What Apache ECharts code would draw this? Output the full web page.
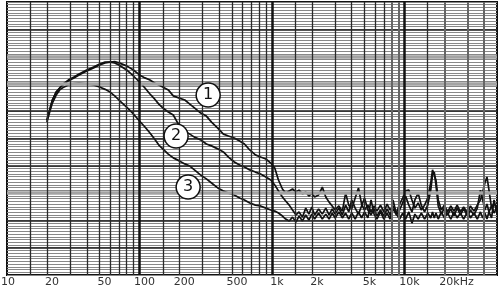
<!DOCTYPE html>
<html>
<head>
<meta charset="utf-8">
<script src="https://cdn.jsdelivr.net/npm/echarts@6/dist/echarts.min.js"></script>
<style>
  html, body { margin: 0; padding: 0; background: #fff; }
  #chart { width: 499px; height: 291px; }
</style>
</head>
<body>
<div id="chart"></div>
<script>
// frequencies shared by the three responses (Hz)
const freqs = [
  20, 21, 22, 23.5, 25, 27, 29, 32, 35, 40,
  45, 50, 55, 60, 65, 70, 80, 90, 100, 110,
  120, 130, 140, 150, 165, 180, 200, 220, 240, 260,
  290, 320, 350, 390, 430, 470, 520, 570, 620, 680,
  750, 820, 900, 980, 1050, 1120, 1200, 1270, 1350, 1430,
  1520, 1600, 1700, 1800, 1900, 2000, 2100, 2250, 2400, 2550,
  2700, 2850, 3000, 3200, 3400, 3600, 3800, 4000, 4250, 4500,
  4750, 5000, 5300, 5600, 5900, 6200, 6600, 7000, 7400, 7800,
  8200, 8700, 9200, 9700, 10200, 10800, 11400, 12000, 12700, 13400,
  14200, 15000, 15800, 16300, 16800, 17300, 18000, 19000, 20000, 21200,
  22400, 23700, 25000, 26500, 28000, 30000, 31500, 33500, 35500, 37500,
  39000, 40500, 42000, 43500, 45500, 47500, 50000
];

// levels, one minor grid step per unit
const curve1 = [
  56.8, 60.4, 64.1, 67.0, 68.5, 70.0, 71.1, 72.2, 73.3, 74.7,
  75.8, 76.9, 77.7, 78.0, 78.2, 77.7, 76.6, 75.1, 73.3, 72.2,
  71.4, 70.3, 69.6, 68.9, 67.8, 65.6, 64.8, 64.1, 62.6, 61.2,
  59.3, 58.2, 56.0, 53.8, 51.6, 50.9, 50.2, 49.1, 48.0, 45.8,
  44.0, 43.2, 42.5, 41.0, 39.2, 34.8, 31.5, 30.0, 30.8, 31.5,
  30.4, 31.1, 29.7, 30.4, 28.9, 30.0, 28.6, 29.3, 32.2, 28.6,
  26.7, 25.3, 23.8, 25.3, 23.4, 30.0, 25.6, 24.2, 28.2, 31.9,
  26.0, 23.8, 25.6, 23.1, 25.3, 23.4, 25.6, 23.1, 26.0, 23.8,
  25.3, 22.7, 26.0, 28.2, 30.8, 31.1, 27.5, 24.5, 26.4, 23.8,
  25.6, 28.2, 33.7, 38.5, 39.2, 34.8, 27.5, 23.8, 25.6, 23.1,
  25.3, 23.4, 25.6, 23.1, 24.9, 22.7, 25.3, 23.4, 25.6, 27.5,
  30.4, 33.7, 35.9, 31.1, 24.5, 26.4, 23.8
];
const curve2 = [
  56.6, 60.4, 64.1, 67.0, 68.5, 70.3, 71.4, 72.5, 73.6, 75.1,
  76.2, 77.3, 78.0, 78.0, 77.7, 76.9, 75.1, 72.9, 70.7, 68.5,
  66.3, 64.5, 62.6, 61.2, 59.7, 58.6, 54.6, 52.7, 51.6, 50.5,
  49.5, 48.0, 47.3, 46.2, 45.1, 43.2, 41.4, 40.3, 39.6, 38.5,
  37.7, 37.0, 35.9, 34.8, 33.0, 30.8, 28.6, 27.1, 25.6, 23.8,
  22.0, 23.1, 21.2, 24.5, 22.3, 24.9, 22.0, 24.2, 22.3, 24.5,
  22.0, 24.2, 22.3, 24.5, 22.0, 25.6, 23.1, 27.5, 24.5, 22.3,
  25.3, 28.2, 23.8, 22.0, 24.2, 21.6, 23.8, 21.6, 24.2, 22.0,
  24.2, 22.0, 23.8, 26.4, 28.9, 25.6, 23.1, 27.5, 30.0, 25.6,
  23.1, 25.6, 31.1, 36.6, 37.7, 33.0, 25.3, 22.3, 24.5, 22.0,
  24.2, 21.6, 24.5, 22.0, 24.2, 21.6, 23.8, 22.0, 24.5, 31.1,
  27.5, 23.8, 26.0, 23.1, 25.3, 22.7, 24.9
];
const curve3 = [
  56.0, 59.7, 63.0, 65.9, 67.8, 68.9, 69.6, 70.1, 70.3, 70.0,
  69.6, 68.9, 68.0, 67.0, 65.6, 64.1, 61.5, 59.0, 56.4, 54.2,
  52.0, 49.8, 47.6, 46.2, 44.3, 42.9, 41.8, 40.7, 39.9, 38.5,
  36.6, 35.2, 33.7, 31.9, 30.8, 30.0, 29.3, 28.2, 27.5, 26.4,
  25.6, 25.3, 24.5, 23.8, 23.4, 22.7, 21.6, 20.5, 19.8, 21.2,
  19.4, 21.6, 19.8, 22.0, 20.1, 22.3, 20.5, 22.7, 20.5, 22.3,
  20.5, 22.7, 20.9, 23.1, 20.9, 22.7, 20.5, 22.7, 20.5, 23.1,
  20.9, 23.1, 20.9, 27.5, 22.3, 20.5, 23.1, 20.5, 22.7, 20.5,
  27.5, 22.3, 20.5, 22.7, 20.5, 23.1, 19.0, 22.3, 20.5, 22.7,
  20.5, 22.7, 20.9, 23.1, 20.9, 22.7, 20.5, 23.1, 20.9, 22.7,
  20.5, 23.1, 20.9, 22.7, 20.5, 23.1, 20.9, 22.7, 20.5, 23.1,
  20.9, 22.7, 20.5, 23.1, 20.9, 27.5, 22.7
];

// x tick labels
const tickFreqs = [10, 20, 50, 100, 200, 500, 1000, 2000, 5000, 10000, 20000];
const tickLabels = ['10', '20', '50', '100', '200', '500', '1k', '2k', '5k', '10k', '20kHz'];

// vertical grid lines
const gridFreqs = [15, 20, 30, 40, 50, 60, 70, 80, 90,
  150, 200, 300, 400, 500, 600, 700, 800, 900,
  1500, 2000, 3000, 4000, 5000, 6000, 7000,
  15000];
const grayFreqs = [8000, 9000, 20000, 30000, 40000];
const decadeFreqs = [100, 1000, 10000];

// horizontal major lines
const darkLevels = [10, 20, 40, 50, 60, 90];
const grayLevels = [30, 70, 80];

// circled curve numbers
const tagFreqs = [330, 189, 233];
const tagLevels = [65.9, 50.9, 32.2];
const tagTexts = ['1', '2', '3'];

const chart = echarts.init(document.getElementById('chart'));

const vLine = (f, color, width) => ({ xAxis: f, lineStyle: { color: color, width: width, type: 'solid' } });
const hLine = (v, color, width) => ({ yAxis: v, lineStyle: { color: color, width: width, type: 'solid' } });

const gridLines = []
  .concat(grayLevels.map(v => hLine(v, '#a3a3a3', 3.5)))
  .concat(darkLevels.map(v => hLine(v, '#1e1e1e', 1.6)))
  .concat(gridFreqs.map(f => vLine(f, '#2a2a2a', 1.3)))
  .concat(grayFreqs.map(f => vLine(f, '#666', 2)))
  .concat(decadeFreqs.map(f => vLine(f, '#111', 2.5)));

const curveSeries = [curve1, curve2, curve3].map((c, k) => ({
  name: 'curve' + (k + 1),
  type: 'line',
  z: 3,
  symbol: 'none',
  data: freqs.map((f, i) => [f, c[i]]),
  lineStyle: { color: '#111', width: 1.7 }
}));

const option = {
  animation: false,
  backgroundColor: '#fff',
  grid: {
    left: 7, right: 2, top: 2, bottom: 16,
    show: true,
    backgroundColor: '#fff',
    borderColor: '#111',
    borderWidth: 2
  },
  xAxis: {
    type: 'log',
    logBase: 10,
    min: 10,
    max: 50000,
    axisLine: { show: false },
    axisTick: { show: false },
    axisLabel: { show: false },
    splitLine: { show: false }
  },
  yAxis: {
    type: 'value',
    min: 0,
    max: 100,
    interval: 1,
    axisLine: { show: false },
    axisTick: { show: false },
    axisLabel: { show: false },
    splitLine: { show: true, lineStyle: { color: '#888', width: 1 } }
  },
  series: [
    {
      name: 'grid',
      type: 'line',
      z: 1,
      data: [],
      markLine: {
        silent: true,
        symbol: ['none', 'none'],
        label: { show: false },
        data: gridLines
      }
    },
    {
      name: 'ticks',
      type: 'line',
      z: 1,
      clip: false,
      data: [],
      markPoint: {
        silent: true,
        symbol: 'circle',
        symbolSize: 0,
        data: tickFreqs.map((f, i) => ({
          coord: [f, 0],
          label: {
            show: true,
            formatter: tickLabels[i],
            position: 'bottom',
            distance: 2,
            align: tickLabels[i].endsWith('Hz') ? 'left' : 'center',
            offset: [i === 0 ? 1 : (tickLabels[i].endsWith('Hz') ? -5 : 5), 0],
            fontFamily: 'DejaVu Sans',
            fontSize: 11,
            color: '#333'
          }
        }))
      }
    }
  ].concat(curveSeries).concat([
    {
      name: 'tags',
      type: 'line',
      z: 5,
      data: [],
      markPoint: {
        silent: true,
        symbol: 'circle',
        symbolSize: 24,
        itemStyle: { color: '#fff', borderColor: '#111', borderWidth: 1.5 },
        label: {
          show: true,
          position: 'inside',
          fontFamily: 'DejaVu Sans',
          fontSize: 16,
          color: '#111'
        },
        data: tagFreqs.map((f, i) => ({ coord: [f, tagLevels[i]], value: tagTexts[i] }))
      }
    }
  ])
};

chart.setOption(option);
</script>
</body>
</html>
